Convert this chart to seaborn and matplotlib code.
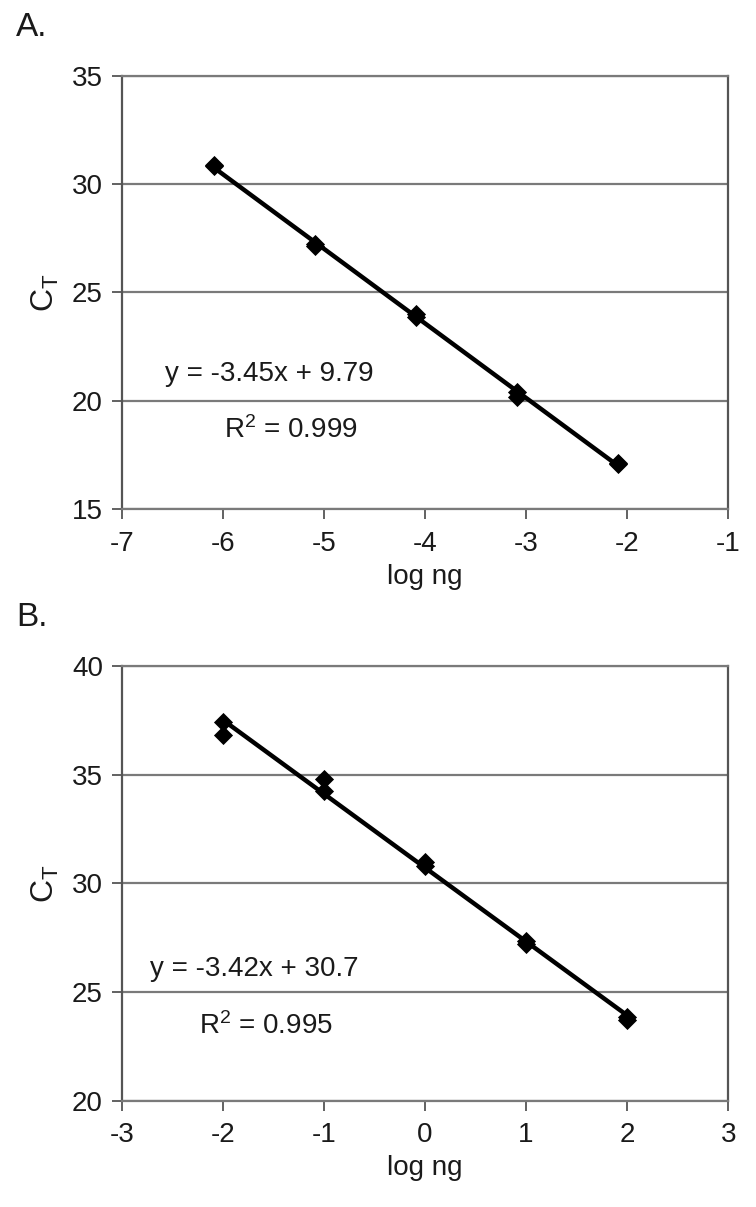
import matplotlib
matplotlib.use("Agg")
import matplotlib.pyplot as plt
import seaborn as sns

# Panel A: standard curve, low input
a_log_ng = [-6.09, -6.09, -5.09, -5.09, -4.09, -4.09, -3.09, -3.09, -2.09, -2.09]
a_ct = [30.9, 30.85, 27.25, 27.15, 24.0, 23.85, 20.4, 20.2, 17.15, 17.1]
a_eq = "y = -3.45x + 9.79"
a_r2 = "R$^2$ = 0.999"

# Panel B: standard curve, high input
b_log_ng = [-2, -2, -1, -1, 0, 0, 1, 1, 2, 2]
b_ct = [37.45, 36.85, 34.8, 34.25, 31.0, 30.8, 27.35, 27.2, 23.85, 23.7]
b_eq = "y = -3.42x + 30.7"
b_r2 = "R$^2$ = 0.995"

sns.set_style("white")
plt.rcParams["font.family"] = ["Liberation Sans", "DejaVu Sans"]
plt.rcParams["mathtext.fontset"] = "custom"
plt.rcParams["mathtext.rm"] = "Liberation Sans"
plt.rcParams["mathtext.it"] = "Liberation Sans"
plt.rcParams["axes.unicode_minus"] = False

ink = "#1a1a1a"
grey = "#7a7a7a"
fs = 20

fig = plt.figure(figsize=(7.56, 12.07), dpi=100)
ax_a = fig.add_axes([0.161, 0.5781, 0.8023, 0.3592])
ax_b = fig.add_axes([0.161, 0.0881, 0.8023, 0.3600])


def draw(ax, x, y, xlim, xticks, ylim, yticks, eq, r2, eq_pos, r2_pos):
    sns.regplot(x=x, y=y, ax=ax, ci=None, scatter=False, truncate=True,
                line_kws={"color": "black", "lw": 3.2, "zorder": 3})
    sns.scatterplot(x=x, y=y, ax=ax, marker="D", s=95, color="black",
                    edgecolor="black", linewidth=0, zorder=4)
    ax.set_xlim(xlim)
    ax.set_ylim(ylim)
    ax.set_xticks(xticks)
    ax.set_yticks(yticks)
    ax.yaxis.grid(True, color=grey, lw=1.6)
    ax.set_axisbelow(True)
    for side, sp in ax.spines.items():
        sp.set_visible(True)
        sp.set_color(grey if side in ("top", "bottom") else "#555555")
        sp.set_linewidth(1.6)
    ax.tick_params(axis="both", direction="out", length=7.5, width=1.3,
                   color="#555555", labelsize=fs, labelcolor=ink)
    ax.tick_params(axis="y", pad=6)
    ax.tick_params(axis="x", pad=8, bottom=True)
    ax.tick_params(axis="y", left=True)
    ax.set_xlabel("log ng", fontsize=fs, color=ink, labelpad=5)
    ax.set_ylabel("C$_\\mathrm{T}$", fontsize=fs + 3, color=ink, labelpad=8)
    ax.text(*eq_pos, eq, fontsize=fs, color=ink, ha="center", va="center")
    ax.text(*r2_pos, r2, fontsize=fs, color=ink, ha="center", va="center")


draw(ax_a, a_log_ng, a_ct, (-7, -1), range(-7, 0), (15, 35), range(15, 36, 5),
     a_eq, a_r2, (-5.54, 21.25), (-5.33, 18.66))
draw(ax_b, b_log_ng, b_ct, (-3, 3), range(-3, 4), (20, 40), range(20, 41, 5),
     b_eq, b_r2, (-1.69, 26.04), (-1.57, 23.44))

fig.text(0.021, 0.977, "A.", fontsize=24, color=ink, va="center")
fig.text(0.021, 0.488, "B.", fontsize=24, color=ink, va="center")

fig.savefig("out.png", dpi=100, facecolor="white")
